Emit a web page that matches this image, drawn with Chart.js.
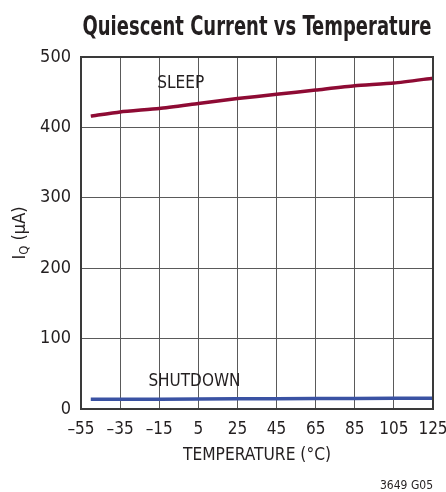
<!DOCTYPE html>
<html>
<head>
<meta charset="utf-8">
<script src="https://cdn.jsdelivr.net/npm/chart.js@4"></script>
<style>
  html, body { margin: 0; padding: 0; background: #fff; }
  #wrap { width: 446px; height: 492px; position: relative; }
</style>
</head>
<body>
<div id="wrap"><canvas id="chart" width="446" height="492"></canvas></div>
<script>
// Chart data
const temps = [-50, -35, -15, 5, 25, 45, 65, 85, 105, 125];
const sleepCurrent = [416, 422, 427, 434, 441, 447, 453, 459, 463, 470];
const shutdownCurrent = [14, 14, 14, 14.3, 14.5, 14.6, 14.8, 15, 15.1, 15.4];
const xTicks = [-55, -35, -15, 5, 25, 45, 65, 85, 105, 125];
const yTicks = [0, 100, 200, 300, 400, 500];

// Curve labels placed in data units
const curveLabels = [
    { text: 'SLEEP', x: -4, y: 462 },
    { text: 'SHUTDOWN', x: 3, y: 40 }
];

const FONT = "'Liberation Sans Narrow', 'DejaVu Sans Condensed', 'Roboto Condensed', sans-serif";
const INK = '#231f20';

// draw text centred at (cx, cy), squeezed horizontally to the given width
function fitText(ctx, text, cx, cy, width) {
    const w = ctx.measureText(text).width;
    const k = Math.min(1, width / w);
    ctx.save();
    ctx.translate(cx, cy);
    ctx.scale(k, 1);
    ctx.textAlign = 'center';
    ctx.fillText(text, 0, 0);
    ctx.restore();
}

// Title, frame, axis titles and curve labels
const decorPlugin = {
    id: 'decor',
    afterDraw(chart) {
        const ctx = chart.ctx;
        const area = chart.chartArea;
        const xs = chart.scales.x;
        const ys = chart.scales.y;
        const midX = (area.left + area.right) / 2;
        ctx.save();

        // frame
        ctx.strokeStyle = '#3a3a3a';
        ctx.lineWidth = 2;
        ctx.strokeRect(area.left, area.top, area.right - area.left, area.bottom - area.top);

        ctx.fillStyle = INK;
        ctx.textBaseline = 'middle';

        // title
        ctx.font = "bold 26px " + FONT;
        fitText(ctx, 'Quiescent Current vs Temperature', midX, 28, 349);

        // curve labels
        ctx.font = "18px " + FONT;
        fitText(ctx, 'SLEEP', xs.getPixelForValue(curveLabels[0].x), ys.getPixelForValue(curveLabels[0].y), 47);
        fitText(ctx, 'SHUTDOWN', xs.getPixelForValue(curveLabels[1].x), ys.getPixelForValue(curveLabels[1].y), 92);

        // x axis title
        fitText(ctx, 'TEMPERATURE (\u00B0C)', midX, 455, 148);

        // y axis title with subscript
        ctx.translate(20, 233);
        ctx.rotate(-Math.PI / 2);
        ctx.textAlign = 'left';
        const big = "18px " + FONT;
        const small = "13px " + FONT;
        ctx.font = big;
        const w1 = ctx.measureText('I').width;
        const w3 = ctx.measureText(' (\u00B5A)').width;
        ctx.font = small;
        const w2 = ctx.measureText('Q').width;
        let px = -(w1 + w2 + w3) / 2;
        ctx.font = big;
        ctx.fillText('I', px, 0);
        px += w1;
        ctx.font = small;
        ctx.fillText('Q', px, 5);
        px += w2;
        ctx.font = big;
        ctx.fillText(' (\u00B5A)', px, 0);

        ctx.restore();

        // part number
        ctx.save();
        ctx.fillStyle = INK;
        ctx.font = "12px " + FONT;
        ctx.textAlign = 'right';
        ctx.textBaseline = 'middle';
        ctx.fillText('3649 G05', area.right, 486);
        ctx.restore();
    }
};

new Chart(document.getElementById('chart'), {
    type: 'line',
    data: {
        labels: temps,
        datasets: [
            {
                label: 'SLEEP',
                data: temps.map((t, i) => ({ x: t, y: sleepCurrent[i] })),
                borderColor: '#8e0b34',
                borderWidth: 3.5,
                pointRadius: 0,
                tension: 0.2,
                fill: false
            },
            {
                label: 'SHUTDOWN',
                data: temps.map((t, i) => ({ x: t, y: shutdownCurrent[i] })),
                borderColor: '#3a52a3',
                borderWidth: 3.5,
                pointRadius: 0,
                tension: 0,
                fill: false
            }
        ]
    },
    options: {
        responsive: false,
        animation: false,
        devicePixelRatio: 1,
        layout: { padding: { top: 57, right: 13, left: 0, bottom: 0 } },
        plugins: {
            legend: { display: false },
            title: { display: false },
            tooltip: { enabled: false }
        },
        scales: {
            x: {
                type: 'linear',
                min: -55,
                max: 125,
                afterBuildTicks: scale => { scale.ticks = xTicks.map(v => ({ value: v })); },
                afterFit: scale => {
                    scale.height = 83;
                    scale.paddingLeft = 0;
                    scale.paddingRight = 0;
                },
                grid: { color: '#5a5a5a', lineWidth: 1, drawTicks: false },
                border: { display: false },
                ticks: {
                    color: INK,
                    font: { family: FONT, size: 17 },
                    padding: 10,
                    maxRotation: 0,
                    autoSkip: false,
                    callback: v => String(v).replace('-', '\u2013')
                }
            },
            y: {
                min: 0,
                max: 500,
                afterBuildTicks: scale => { scale.ticks = yTicks.map(v => ({ value: v })); },
                afterFit: scale => {
                    scale.width = 81;
                    scale.paddingTop = 0;
                    scale.paddingBottom = 0;
                },
                grid: { color: '#5a5a5a', lineWidth: 1, drawTicks: false },
                border: { display: false },
                ticks: {
                    color: INK,
                    font: { family: FONT, size: 18 },
                    padding: 10
                }
            }
        }
    },
    plugins: [decorPlugin]
});
</script>
</body>
</html>
